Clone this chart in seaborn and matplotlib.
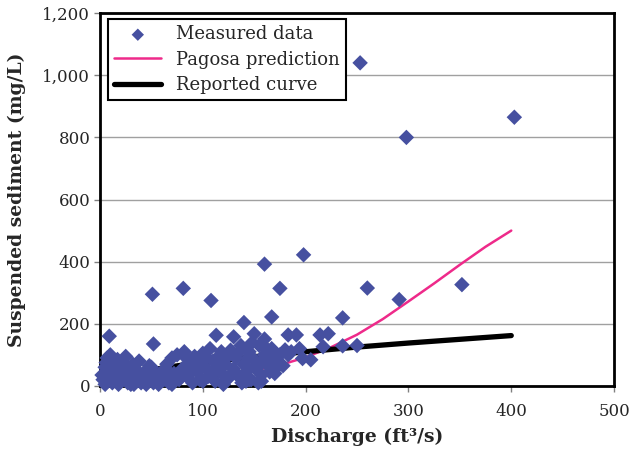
import numpy as np
import pandas as pd
import matplotlib
matplotlib.use('Agg')
import matplotlib.pyplot as plt
from matplotlib.ticker import FuncFormatter, MultipleLocator
import seaborn as sns

# measured discharge (ft3/s) and suspended sediment (mg/L)
meas_q = [253, 298, 403, 198, 160, 260, 352, 291, 175, 81, 51, 108, 236, 167, 140,
          113, 9, 183, 191, 214, 222, 130, 150, 160, 52, 217, 236, 250, 180, 183, 197, 205,
          3, 5, 5, 7, 8, 10, 12, 13, 15, 15, 17, 18, 20, 22, 23, 25, 27, 28, 30, 32, 33, 35,
          38, 40, 42, 45, 47, 50, 52, 55, 57, 60, 62,
          65, 67, 70, 72, 75, 77, 80, 82, 85, 87, 90, 92, 95, 97, 100, 102, 105, 107, 110,
          112, 115, 117, 120, 122, 125, 127, 130, 132, 135, 137, 140, 142, 145, 147, 150,
          152, 155, 157, 160, 162, 165, 167, 170, 172, 175, 145, 157, 150, 138, 120, 128,
          2, 6, 10, 18, 24, 30, 36, 44, 48, 58, 64, 70, 76, 84, 92, 98, 104, 110, 118,
          124, 134, 142, 148, 154, 162, 168, 174, 178, 186, 194, 12, 26, 40, 56, 68, 88,
          100, 116, 132, 144, 158, 170]
meas_ssc = [1040, 800, 865, 422, 392, 315, 326, 278, 314, 314, 295, 275, 219, 222, 204,
            163, 160, 164, 164, 164, 168, 158, 168, 151, 135, 126, 129, 130, 116, 100, 88, 84,
            20, 60, 5, 90, 40, 100, 10, 70, 30, 55, 85, 5, 45, 20, 75, 95, 10, 50, 30, 70, 5, 20,
            80, 10, 40, 5, 25, 60, 10, 35, 5, 45, 20,
            70, 10, 90, 40, 100, 20, 55, 110, 30, 75, 10, 95, 45, 20, 105, 60, 30, 120, 80,
            15, 50, 100, 35, 70, 25, 115, 55, 90, 30, 130, 70, 45, 110, 20, 85,
            55, 130, 35, 100, 70, 45, 120, 80, 60, 100, 20, 15, 60, 10, 5, 40,
            35, 75, 55, 65, 30, 5, 50, 20, 65, 25, 55, 5, 30, 90, 60, 80, 90, 45, 110,
            95, 105, 15, 140, 10, 120, 95, 75, 65, 110, 120, 15, 60, 25, 15, 35, 45,
            15, 80, 40, 90, 80, 40]

# Pagosa prediction curve
pagosa_q = [60, 80, 100, 125, 150, 175, 200, 225, 250, 275, 300, 325, 350, 375, 400]
pagosa_ssc = [10, 16, 24, 35, 50, 67, 92, 125, 165, 215, 272, 330, 390, 448, 500]

# reported rating curve
reported_q = [5, 10, 20, 40, 60, 80, 100, 150, 200, 250, 300, 350, 400]
reported_ssc = [14, 21, 31, 46, 57, 67, 75, 94, 110, 125, 138, 150, 162]

sns.set_style('white')
plt.rcParams['font.family'] = ['DejaVu Serif']

fig = plt.figure(figsize=(6.41, 4.54), dpi=100)
ax = fig.add_axes([0.156, 0.150, 0.802, 0.821])

df = pd.DataFrame({'q': meas_q, 'ssc': meas_ssc})
sns.scatterplot(data=df, x='q', y='ssc', marker='D', s=62, color='#4650A0',
                edgecolor='none', linewidth=0, label='Measured data', ax=ax, zorder=3)
ax.collections[0].set_clip_on(False)
sns.lineplot(x=pagosa_q, y=pagosa_ssc, color='#EE2A8A', linewidth=1.8,
             label='Pagosa prediction', ax=ax, zorder=2)
sns.lineplot(x=reported_q, y=reported_ssc, color='black', linewidth=3.8,
             label='Reported curve', ax=ax, zorder=2)

ax.set_xlim(0, 500)
ax.set_ylim(0, 1200)
ax.xaxis.set_major_locator(MultipleLocator(100))
ax.yaxis.set_major_locator(MultipleLocator(200))
ax.yaxis.set_major_formatter(FuncFormatter(lambda v, p: f'{int(v):,}'))
ax.grid(axis='y', color='#A0A0A0', linewidth=1.0)
ax.set_axisbelow(True)
for s in ax.spines.values():
    s.set_color('black')
    s.set_linewidth(2.0)
ax.tick_params(axis='both', direction='out', length=4, width=1, color='#808080',
               labelsize=12, bottom=True, left=True)
ax.tick_params(axis='x', pad=8)
ax.tick_params(axis='y', pad=3)

ax.set_xlabel('Discharge (ft³/s)', fontsize=13.5, fontweight='bold', labelpad=6)
ax.set_ylabel('Suspended sediment (mg/L)', fontsize=13.5, fontweight='bold', labelpad=12)

leg = ax.legend(loc='upper left', bbox_to_anchor=(0.0156, 0.984), fontsize=13,
                frameon=True, fancybox=False, edgecolor='black', framealpha=1,
                borderpad=0.35, labelspacing=0.4, handlelength=2.6, handletextpad=0.8,
                borderaxespad=0, markerscale=0.8)
leg.get_frame().set_linewidth(1.5)

fig.savefig('out.png', dpi=100)
